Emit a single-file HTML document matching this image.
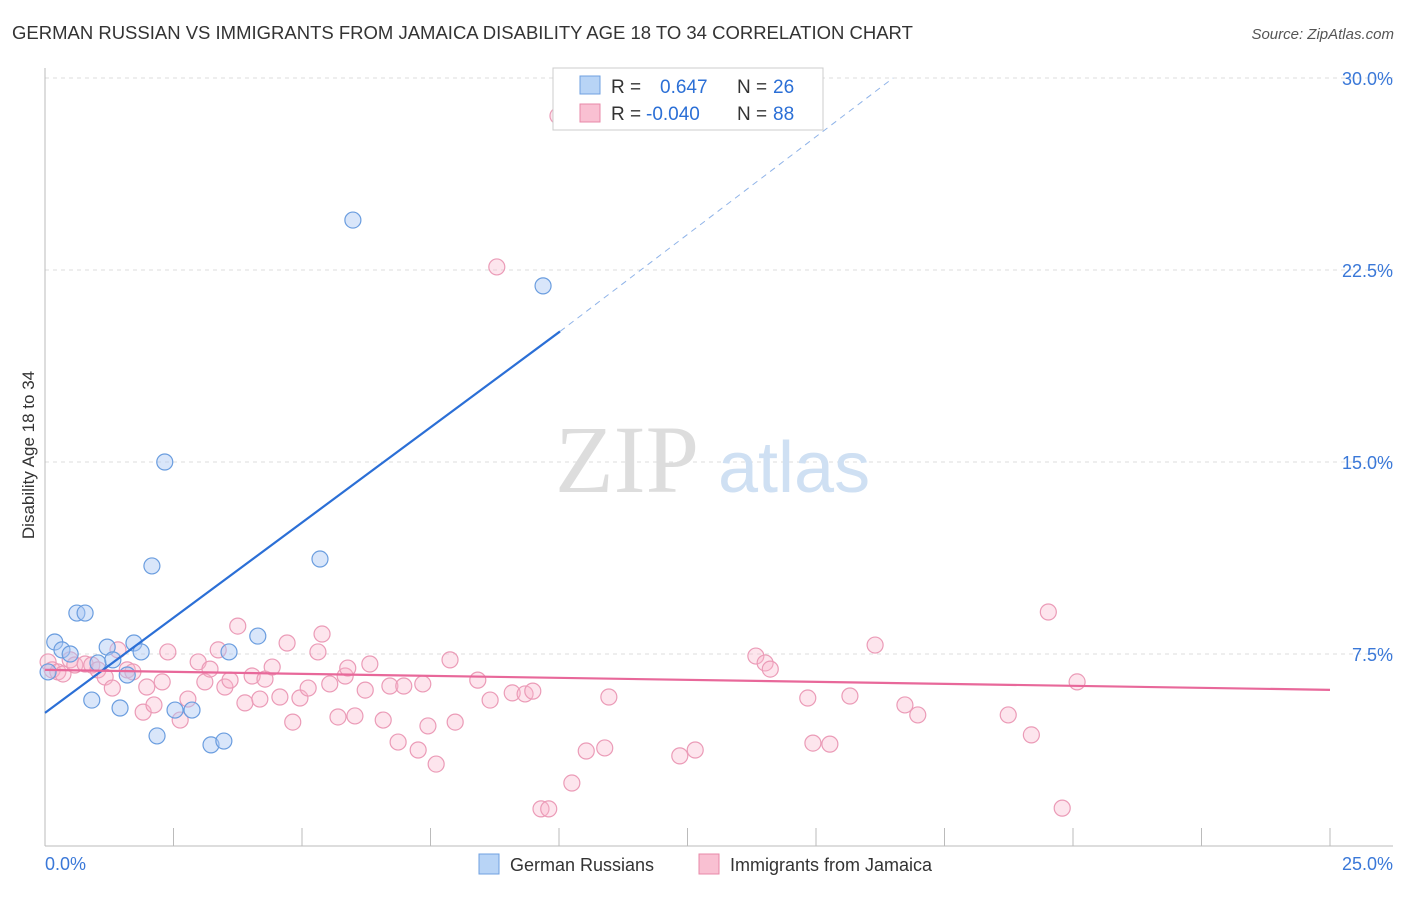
<!DOCTYPE html>
<html><head><meta charset="utf-8"><style>
body{margin:0;background:#fff;font-family:"Liberation Sans",sans-serif}
</style></head><body>
<svg width="1406" height="892" xmlns="http://www.w3.org/2000/svg" style="font-family:'Liberation Sans',sans-serif">
<text x="12" y="39" font-size="18.5" fill="#333">GERMAN RUSSIAN VS IMMIGRANTS FROM JAMAICA DISABILITY AGE 18 TO 34 CORRELATION CHART</text>
<text x="1394" y="39" font-size="15" fill="#555" font-style="italic" text-anchor="end">Source: ZipAtlas.com</text>
<g id="grid"></g>
<text x="555" y="492" font-size="96" fill="#ddd" font-family="Liberation Serif,serif">ZIP</text>
<text x="718" y="492" font-size="72" fill="#cfe0f3">atlas</text>
<g id="axes"></g>
<g id="pts"></g>
<g id="lines"></g>
<text x="34" y="455" font-size="17" fill="#333" text-anchor="middle" transform="rotate(-90 34 455)">Disability Age 18 to 34</text>
<g>
<rect x="553" y="68" width="270" height="62" fill="#fff" stroke="#ccc"/>
<rect x="580" y="76" width="20" height="18" fill="#b8d4f6" stroke="#6fa0e0"/>
<rect x="580" y="104" width="20" height="18" fill="#f9c0d2" stroke="#e889a8"/>
<text x="611" y="93" font-size="19" fill="#333">R = </text><text x="660" y="93" font-size="19" fill="#2b6fd6">0.647</text>
<text x="737" y="93" font-size="19" fill="#333">N = </text><text x="773" y="93" font-size="19" fill="#2b6fd6">26</text>
<text x="611" y="120" font-size="19" fill="#333">R = </text><text x="646" y="120" font-size="19" fill="#2b6fd6">-0.040</text>
<text x="737" y="120" font-size="19" fill="#333">N = </text><text x="773" y="120" font-size="19" fill="#2b6fd6">88</text>
</g>
<g>
<rect x="479" y="854" width="20" height="20" fill="#b8d4f6" stroke="#6fa0e0"/>
<text x="510" y="871" font-size="18" fill="#333">German Russians</text>
<rect x="699" y="854" width="20" height="20" fill="#f9c0d2" stroke="#e889a8"/>
<text x="730" y="871" font-size="18" fill="#333">Immigrants from Jamaica</text>
</g>
</svg>
<script>
const xTicks=[0,2.5,5,7.5,10,12.5,15,17.5,20,22.5,25];
const yTicks=[7.5,15,22.5,30];
const yTickLabels=["7.5%","15.0%","22.5%","30.0%"];
const blueX=[0.06,0.19,0.33,0.49,0.62,0.78,0.91,1.03,1.21,1.32,1.46,1.60,1.73,1.87,2.08,2.18,2.33,2.53,2.86,3.23,3.48,3.58,4.14,5.35,5.99,9.69];
const blueY=[6.8,7.97,7.66,7.5,9.1,9.1,5.7,7.15,7.77,7.27,5.39,6.68,7.93,7.58,10.94,4.3,15.0,5.31,5.31,3.95,4.1,7.58,8.2,11.21,24.45,21.88];
const pinkX=[0.06,0.14,0.25,0.35,0.49,0.58,0.78,0.91,1.03,1.17,1.31,1.42,1.60,1.71,1.91,1.98,2.12,2.28,2.39,2.63,2.78,2.98,3.11,3.21,3.37,3.50,3.60,3.75,3.89,4.03,4.18,4.28,4.42,4.57,4.82,4.71,4.96,5.12,5.31,5.39,5.54,5.70,5.84,5.89,6.03,6.23,6.32,6.58,6.71,6.87,6.98,7.26,7.35,7.45,7.61,7.88,7.98,8.42,8.66,8.79,9.09,9.34,9.49,9.65,9.80,9.98,10.25,10.53,10.89,10.97,12.35,12.65,13.83,14.01,14.11,14.84,14.94,15.27,15.66,16.15,16.73,16.98,18.74,19.19,19.52,19.79,20.08];
const pinkY=[7.19,6.88,6.8,6.72,7.27,7.07,7.11,7.07,6.88,6.6,6.17,7.66,6.88,6.8,5.23,6.21,5.51,6.41,7.58,4.92,5.74,7.19,6.41,6.91,7.66,6.21,6.48,8.59,5.59,6.64,5.74,6.52,6.99,5.82,4.84,7.93,5.78,6.17,7.58,8.28,6.33,5.04,6.64,6.95,5.08,6.09,7.11,4.92,6.25,4.06,6.25,3.75,6.33,4.69,3.2,7.27,4.84,6.48,5.70,22.62,5.98,5.94,6.05,1.45,1.45,28.52,2.46,3.71,3.83,5.82,3.52,3.75,7.42,7.15,6.91,5.78,4.02,3.98,5.86,7.85,5.51,5.12,5.12,4.34,9.14,1.48,6.41];
const blueLine=[[0,5.2],[10.02,20.1]], blueDash=[[10.02,20.1],[16.5,30]];
const pinkLine=[[0,6.88],[25,6.1]];
const NS="http://www.w3.org/2000/svg";
const X=v=>45+v*51.4, Y=v=>846-v*25.6;
function mk(p,t,a){const e=document.createElementNS(NS,t);for(const k in a)e.setAttribute(k,a[k]);p.appendChild(e);return e;}
const grid=document.getElementById('grid'),axes=document.getElementById('axes'),pts=document.getElementById('pts'),lines=document.getElementById('lines');
yTicks.forEach((v,i)=>{const l=mk(grid,'line',{x1:45,x2:1393,y1:Y(v),y2:Y(v),stroke:'#ddd','stroke-dasharray':'4,4'});


const t=mk(axes,'text',{x:1393,y:Y(v)+7,'font-size':18,fill:'#3a78d8','text-anchor':'end'});t.textContent=yTickLabels[i];

});
const topGrid=mk(grid,'line',{x1:45,x2:1393,y1:78,y2:78,stroke:'#ddd','stroke-dasharray':'4,4'});


const ax=mk(axes,'line',{x1:45,x2:1393,y1:846,y2:846,stroke:'#bbb'});


const ay=mk(axes,'line',{x1:45,x2:45,y1:68,y2:846,stroke:'#bbb'});


xTicks.forEach(v=>{const t=mk(axes,'line',{x1:X(v),x2:X(v),y1:828,y2:846,stroke:'#bbb'});

});
const l0=mk(axes,'text',{x:45,y:870,'font-size':18,fill:'#3a78d8'});l0.textContent='0.0%';


const l1=mk(axes,'text',{x:1393,y:870,'font-size':18,fill:'#3a78d8','text-anchor':'end'});l1.textContent='25.0%';


pinkX.forEach((v,i)=>{const c=mk(pts,'circle',{cx:X(v),cy:Y(pinkY[i]),r:8,fill:'rgba(248,180,203,0.35)',stroke:'#eb9bb7','stroke-width':1.2});

});
blueX.forEach((v,i)=>{const c=mk(pts,'circle',{cx:X(v),cy:Y(blueY[i]),r:8,fill:'rgba(170,200,245,0.45)',stroke:'#6a9ddf','stroke-width':1.2});

});
const bl=mk(lines,'line',{x1:X(blueLine[0][0]),y1:Y(blueLine[0][1]),x2:X(blueLine[1][0]),y2:Y(blueLine[1][1]),stroke:'#2b6fd6','stroke-width':2.2});


const bd=mk(lines,'line',{x1:X(blueDash[0][0]),y1:Y(blueDash[0][1]),x2:X(blueDash[1][0]),y2:Y(blueDash[1][1]),stroke:'#8fb3e8','stroke-width':1,'stroke-dasharray':'6,5'});


const pl=mk(lines,'line',{x1:X(pinkLine[0][0]),y1:Y(pinkLine[0][1]),x2:X(pinkLine[1][0]),y2:Y(pinkLine[1][1]),stroke:'#e8689a','stroke-width':2.2});


</script>
</body></html>
